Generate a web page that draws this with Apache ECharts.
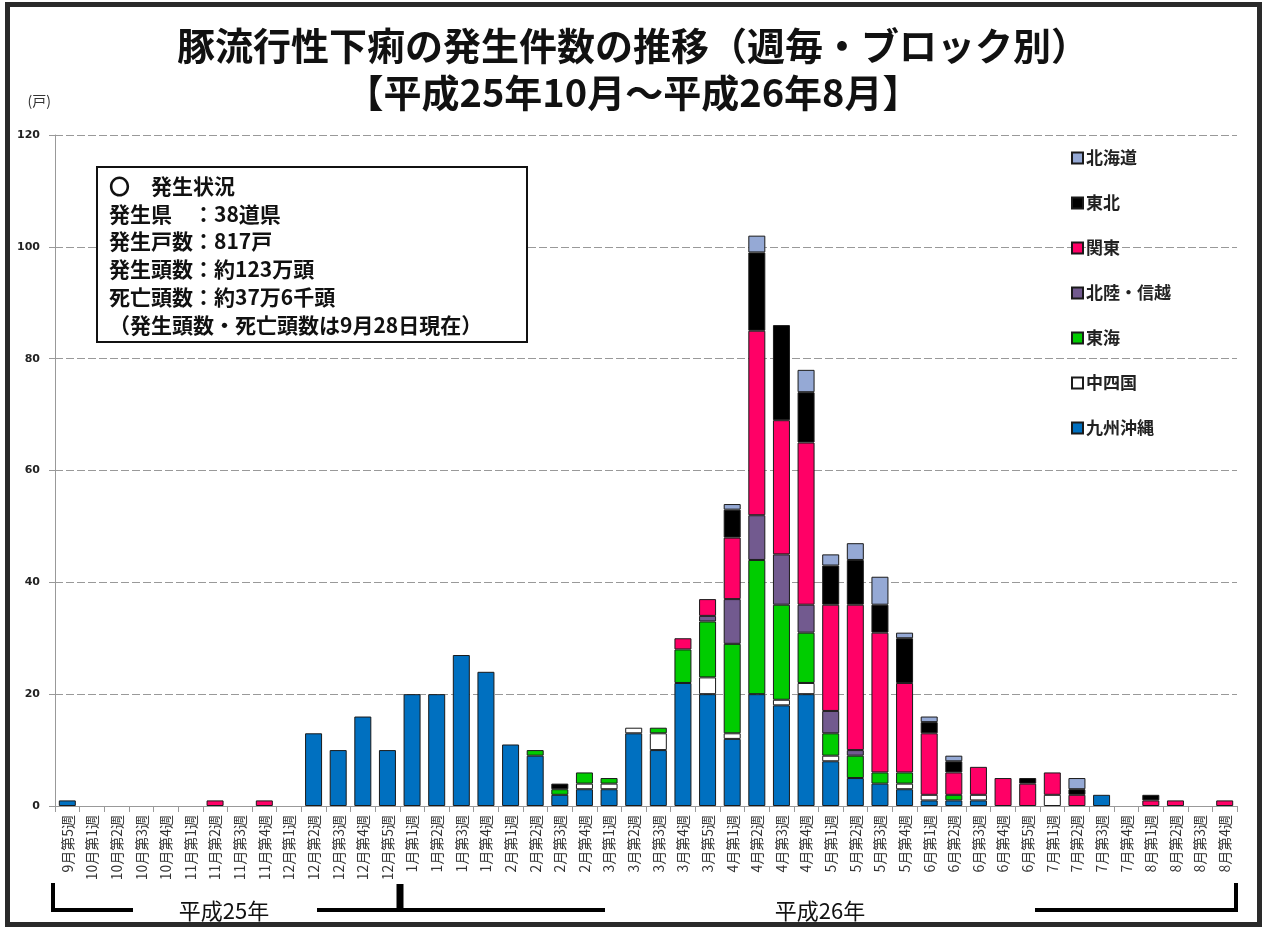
<!DOCTYPE html>
<html><head><meta charset="utf-8">
<script src="https://cdn.jsdelivr.net/npm/echarts@6/dist/echarts.min.js"></script>
<style>html,body{margin:0;padding:0;background:#fff}#c{width:1266px;height:929px}</style>
</head><body><div id="c"></div>
<script>
const weeks = ['9月第5週','10月第1週','10月第2週','10月第3週','10月第4週','11月第1週','11月第2週','11月第3週','11月第4週','12月第1週',
'12月第2週','12月第3週','12月第4週','12月第5週','1月第1週','1月第2週','1月第3週','1月第4週','2月第1週','2月第2週',
'2月第3週','2月第4週','3月第1週','3月第2週','3月第3週','3月第4週','3月第5週','4月第1週','4月第2週','4月第3週',
'4月第4週','5月第1週','5月第2週','5月第3週','5月第4週','6月第1週','6月第2週','6月第3週','6月第4週','6月第5週',
'7月第1週','7月第2週','7月第3週','7月第4週','8月第1週','8月第2週','8月第3週','8月第4週'];

const kyushu     = [1,0,0,0,0,0,0,0,0,0, 13,10,16,10,20,20,27,24,11,9, 2,3,3,13,10,22,20,12,20,18, 20,8,5,4,3,1,1,1,0,0, 0,0,2,0,0,0,0,0];
const chushikoku = [0,0,0,0,0,0,0,0,0,0, 0,0,0,0,0,0,0,0,0,0, 0,1,1,1,3,0,3,1,0,1, 2,1,0,0,1,1,0,1,0,0, 2,0,0,0,0,0,0,0];
const tokai      = [0,0,0,0,0,0,0,0,0,0, 0,0,0,0,0,0,0,0,0,1, 1,2,1,0,1,6,10,16,24,17, 9,4,4,2,2,0,1,0,0,0, 0,0,0,0,0,0,0,0];
const hokuriku   = [0,0,0,0,0,0,0,0,0,0, 0,0,0,0,0,0,0,0,0,0, 0,0,0,0,0,0,1,8,8,9, 5,4,1,0,0,0,0,0,0,0, 0,0,0,0,0,0,0,0];
const kanto      = [0,0,0,0,0,0,1,0,1,0, 0,0,0,0,0,0,0,0,0,0, 0,0,0,0,0,2,3,11,33,24, 29,19,26,25,16,11,4,5,5,4, 4,2,0,0,1,1,0,1];
const tohoku     = [0,0,0,0,0,0,0,0,0,0, 0,0,0,0,0,0,0,0,0,0, 1,0,0,0,0,0,0,5,14,17, 9,7,8,5,8,2,2,0,0,1, 0,1,0,0,1,0,0,0];
const hokkaido   = [0,0,0,0,0,0,0,0,0,0, 0,0,0,0,0,0,0,0,0,0, 0,0,0,0,0,0,0,1,3,0, 4,2,3,5,1,1,1,0,0,0, 0,2,0,0,0,0,0,0];

const yTicks = [0,20,40,60,80,100,120];
const legendOrder = ['北海道','東北','関東','北陸・信越','東海','中四国','九州沖縄'];

const seriesDefs = [
  ['九州沖縄', kyushu, '#0070C0'],
  ['中四国', chushikoku, '#FFFFFF'],
  ['東海', tokai, '#00CC00'],
  ['北陸・信越', hokuriku, '#725A8F'],
  ['関東', kanto, '#FF0066'],
  ['東北', tohoku, '#000000'],
  ['北海道', hokkaido, '#95A9D5']
];

const JP = "'Noto Sans CJK JP', sans-serif";
const chart = echarts.init(document.getElementById('c'), null, {renderer:'canvas'});
chart.setOption({
  animation: false,
  backgroundColor: '#ffffff',
  title: {
    text: '豚流行性下痢の発生件数の推移（週毎・ブロック別）\n【平成25年10月～平成26年8月】',
    left: 'center', top: 17, padding: [5, 5, 5, 22],
    textStyle: {fontFamily: JP, fontSize: 38, fontWeight: 'bold', color: '#111', lineHeight: 47}
  },
  legend: {
    data: legendOrder, orient: 'vertical', left: 1066, top: 144,
    icon: 'rect', itemWidth: 11, itemHeight: 11, itemGap: 27,
    textStyle: {fontFamily: JP, fontSize: 17, fontWeight: 'bold', color: '#222', lineHeight: 18, padding: [0, 0, 0, -2]}
  },
  grid: {left: 55, right: 29, top: 135, bottom: 123, containLabel: false},
  xAxis: {
    type: 'category', data: weeks,
    axisLine: {lineStyle: {color: '#999'}},
    axisTick: {show: true, length: 6, lineStyle: {color: '#999'}},
    axisLabel: {interval: 0, rotate: 90, margin: 9, fontFamily: JP, fontSize: 14, color: '#333'}
  },
  yAxis: {
    type: 'value', min: yTicks[0], max: yTicks[yTicks.length-1], interval: 20,
    name: '(戸)', nameLocation: 'end', nameGap: 27,
    nameTextStyle: {fontFamily: JP, fontSize: 14, color: '#333', align: 'right', padding: [0, 4, 0, 0]},
    axisLine: {show: true, lineStyle: {color: '#999'}},
    axisTick: {show: true, length: 6, lineStyle: {color: '#999'}},
    axisLabel: {margin: 15, fontFamily: "'DejaVu Sans', sans-serif", fontSize: 11, fontWeight: 'bold', color: '#222'},
    splitLine: {show: true, lineStyle: {color: '#999', type: [8, 3], width: 1}}
  },
  series: seriesDefs.map(([name, arr, color]) => ({
    name, type: 'bar', stack: 'total', barWidth: 17,
    data: arr.map(v => v === 0 ? '-' : v),
    itemStyle: {color, borderColor: '#1a1a1a', borderWidth: 1}
  })),
  graphic: [
    {type: 'rect', shape: {x: 7.5, y: 4.5, width: 1252, height: 920}, style: {fill: 'none', stroke: '#2a2a2a', lineWidth: 5}, z: 100},
    {type: 'rect', shape: {x: 97, y: 167, width: 430, height: 175}, style: {fill: '#fff', stroke: '#111', lineWidth: 2}, z: 50},
    {type: 'text', x: 109, y: 172, z: 51, style: {
      text: '〇　発生状況\n発生県　：38道県\n発生戸数：817戸\n発生頭数：約123万頭\n死亡頭数：約37万6千頭\n（発生頭数・死亡頭数は9月28日現在）',
      font: "bold 21px 'Noto Sans CJK JP'", fill: '#111', lineHeight: 27.8}},
    {type: 'polyline', shape: {points: [[53, 883], [53, 910], [133, 910]]}, style: {stroke: '#000', lineWidth: 4, fill: 'none'}},
    {type: 'line', shape: {x1: 317, y1: 910, x2: 605, y2: 910}, style: {stroke: '#000', lineWidth: 4}},
    {type: 'line', shape: {x1: 400, y1: 884, x2: 400, y2: 912}, style: {stroke: '#000', lineWidth: 7}},
    {type: 'polyline', shape: {points: [[1035, 910], [1236, 910], [1236, 883]]}, style: {stroke: '#000', lineWidth: 4, fill: 'none'}},
    {type: 'text', x: 224, y: 911, style: {text: '平成25年', font: "22px 'Noto Sans CJK JP'", fill: '#111', align: 'center', verticalAlign: 'middle'}},
    {type: 'text', x: 820, y: 911, style: {text: '平成26年', font: "22px 'Noto Sans CJK JP'", fill: '#111', align: 'center', verticalAlign: 'middle'}}
  ]
});
</script></body></html>
